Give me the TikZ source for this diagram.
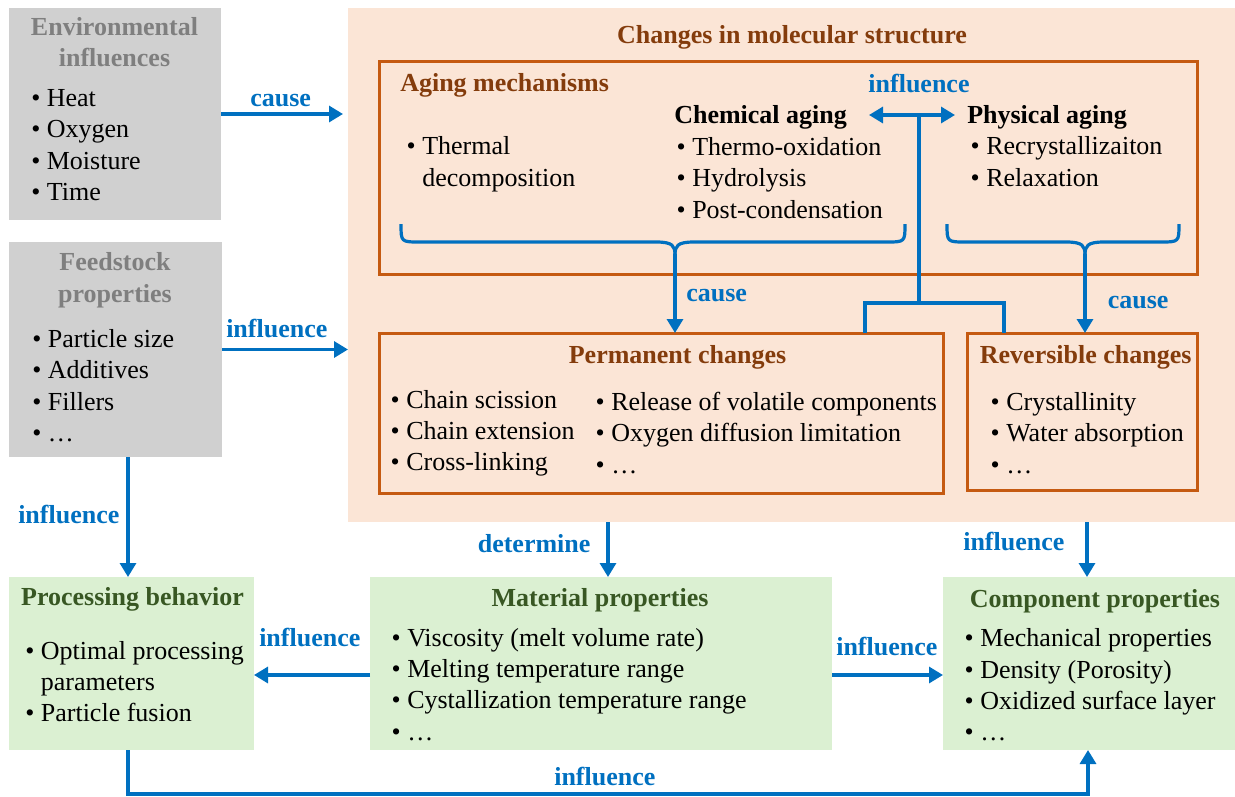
\documentclass[tikz,border=0pt]{standalone}
\usepackage{fontspec}
\setmainfont{Liberation Serif}
\usetikzlibrary{arrows.meta}

\definecolor{boxgray}{RGB}{208,208,208}
\definecolor{titlegray}{RGB}{127,127,127}
\definecolor{molpink}{RGB}{251,229,214}
\definecolor{agebrown}{RGB}{197,90,17}
\definecolor{titlebrown}{RGB}{132,60,12}
\definecolor{propgreen}{RGB}{219,240,210}
\definecolor{titlegreen}{RGB}{56,87,35}
\definecolor{flowblue}{RGB}{0,112,192}

\newcommand{\itm}{\textbullet\ }
\newcommand{\hng}{\hphantom{\textbullet\ }}

\tikzset{
  panel/.style={anchor=north west, inner sep=0pt, outer sep=0pt},
  frame/.style={panel, draw=agebrown, line width=2.25pt},
  txt/.style={anchor=base west, inner sep=0pt, align=left, font=\fontsize{19.5}{23.5}\selectfont},
  head/.style={txt, font=\fontsize{19.5}{23.5}\selectfont\bfseries},
  ctitle/.style={head, anchor=base, align=center},
  lbl/.style={head, text=flowblue},
  link/.style={draw=flowblue, line width=2.4pt},
  flow/.style={link, -{Triangle[length=10.5pt,width=12pt]}},
  flowboth/.style={link, {Triangle[length=10.5pt,width=12pt]}-{Triangle[length=10.5pt,width=12pt]}},
  brace/.style={draw=flowblue, line width=2.4pt},
}

\begin{document}
\begin{tikzpicture}[x=0.75pt,y=0.75pt,yscale=-1,xscale=1]
\useasboundingbox (0,0) rectangle (1235,796);

%Shape: Rectangle [panels]
\node[panel, fill=boxgray, minimum width=212*0.75pt, minimum height=212*0.75pt] (env) at (9,8) {};
\node[panel, fill=boxgray, minimum width=213*0.75pt, minimum height=215*0.75pt] (feed) at (9,242) {};
\node[panel, fill=molpink, minimum width=887*0.75pt, minimum height=514*0.75pt] (mol) at (348,8) {};
\node[frame, minimum width=818*0.75pt, minimum height=213*0.75pt] (aging) at (379,61) {};
\node[frame, minimum width=564*0.75pt, minimum height=160*0.75pt] (perm) at (379,333) {};
\node[frame, minimum width=230*0.75pt, minimum height=157*0.75pt] (rev) at (967,333) {};
\node[panel, fill=propgreen, minimum width=245*0.75pt, minimum height=173*0.75pt] (proc) at (9,577) {};
\node[panel, fill=propgreen, minimum width=462*0.75pt, minimum height=173*0.75pt] (mat) at (370,577) {};
\node[panel, fill=propgreen, minimum width=292*0.75pt, minimum height=173*0.75pt] (comp) at (943,577) {};

%Shape: Braces
\draw[brace] (401,224) .. controls (401,242) .. (420,242) -- (656,242) .. controls (673,242) and (675,246) .. (675,255);
\draw[brace] (905,224) .. controls (905,242) .. (886,242) -- (694,242) .. controls (677,242) and (675,246) .. (675,255);
\draw[brace] (947,224) .. controls (947,242) .. (966,242) -- (1066,242) .. controls (1083,242) and (1085,246) .. (1085,255);
\draw[brace] (1179,224) .. controls (1179,242) .. (1160,242) -- (1104,242) .. controls (1087,242) and (1085,246) .. (1085,255);

% Helper points
\coordinate (ltip) at (675,254);
\coordinate (rtip) at (1085,254);
\coordinate (pk) at (865,303);
\coordinate (rk) at (1004,303);
\coordinate (hub) at (919,115);
\coordinate (chemR) at (869,115);
\coordinate (physL) at (955,115);
\coordinate (fp) at (128,794);
\coordinate (cu) at (1088,794);
\coordinate (dm) at (608,0);
\coordinate (dc) at (1087,0);
\coordinate (midrow) at (0,675);

% Connectors
\draw[flow, shorten >=3.75pt] (env.east) -- (mol.west |- env.east);
\draw[flow] (feed.east) -- (mol.west |- feed.east);
\draw[flow] (feed.south -| fp) -- (proc.north -| fp);
\draw[flow] (ltip) -- (perm.north -| ltip);
\draw[flow] (rtip) -- (rev.north -| rtip);
\draw[link] (perm.north -| pk) -- (pk) -- (rk) -- (rev.north -| rk);
\draw[link] (hub |- pk) -- (hub);
\draw[flowboth] (chemR) -- (physL);
\draw[flow] (mol.south -| dm) -- (mat.north -| dm);
\draw[flow] (mol.south -| dc) -- (comp.north -| dc);
\draw[flow] (mat.west |- midrow) -- (proc.east |- midrow);
\draw[flow] (mat.east |- midrow) -- (comp.west |- midrow);
\draw[flow] (proc.south -| fp) -- (fp) -- (cu) -- (comp.south -| cu);

% Text Node [environmental influences]
\node[ctitle, text=titlegray] (envT) at (114.5,66.7) {Environmental\\influences};
\node[txt] (envL) at (31,200.4) {\itm Heat\\\itm Oxygen\\\itm Moisture\\\itm Time};
% Text Node [feedstock properties]
\node[ctitle, text=titlegray] (feedT) at (115,302) {Feedstock\\properties};
\node[txt] (feedL) at (32,441.5) {\itm Particle size\\\itm Additives\\\itm Fillers\\\itm \dots};

% Text Node [molecular structure]
\node[ctitle, text=titlebrown] (molT) at (792,43) {Changes in molecular structure};
\node[head, text=titlebrown] (agingT) at (400,91.7) {Aging mechanisms};
\node[ctitle, text=flowblue] (infA) at (919,92.7) {influence};
\node[head] (chemT) at (674,123) {Chemical aging};
\node[head] (physT) at (967,123) {Physical aging};
\node[txt] (thermL) at (406.4,186) {\itm Thermal\\\hng decomposition};
\node[txt] (chemL) at (676.4,218) {\itm Thermo-oxidation\\\itm Hydrolysis\\\itm Post-condensation};
\node[txt] (physL2) at (970.4,186) {\itm Recrystallizaiton\\\itm Relaxation};
\node[lbl] (causeL) at (686,301.7) {cause};
\node[lbl] (causeR) at (1107.5,308) {cause};

% Text Node [changes]
\node[ctitle, text=titlebrown] (permT) at (677.5,363.3) {Permanent changes};
\node[txt] (permA) at (390.4,470.7) {\itm Chain scission\\\itm Chain extension\\\itm Cross-linking};
\node[txt] (permB) at (595.4,473) {\itm Release of volatile components\\\itm Oxygen diffusion limitation\\\itm \dots};
\node[ctitle, text=titlebrown] (revT) at (1085.7,363.3) {Reversible changes};
\node[txt] (revL) at (990.4,473) {\itm Crystallinity\\\itm Water absorption\\\itm \dots};

% Text Node [properties]
\node[ctitle, text=titlegreen] (procT) at (132.5,605.5) {Processing behavior};
\node[txt] (procL) at (25,721.7) {\itm Optimal processing\\\hng parameters\\\itm Particle fusion};
\node[ctitle, text=titlegreen] (matT) at (600,606) {Material properties};
\node[txt] (matL) at (391.4,740) {\itm Viscosity (melt volume rate)\\\itm Melting temperature range\\\itm Cystallization temperature range\\\itm \dots};
\node[ctitle, text=titlegreen] (compT) at (1095,607) {Component properties};
\node[txt] (compL) at (964.4,740.7) {\itm Mechanical properties\\\itm Density (Porosity)\\\itm Oxidized surface layer\\\itm \dots};

% Text Node [arrow labels]
\node[lbl] (causeE) at (250,106) {cause};
\node[lbl] (infF) at (226,337.3) {influence};
\node[lbl] (infP) at (18,523.3) {influence};
\node[lbl, anchor=base east] (detM) at (590.7,552.7) {determine};
\node[lbl] (infC) at (963,550.7) {influence};
\node[lbl] (infMP) at (259,646) {influence};
\node[lbl] (infMC) at (836,655) {influence};
\node[lbl] (infB) at (554,785) {influence};

\end{tikzpicture}
\end{document}
